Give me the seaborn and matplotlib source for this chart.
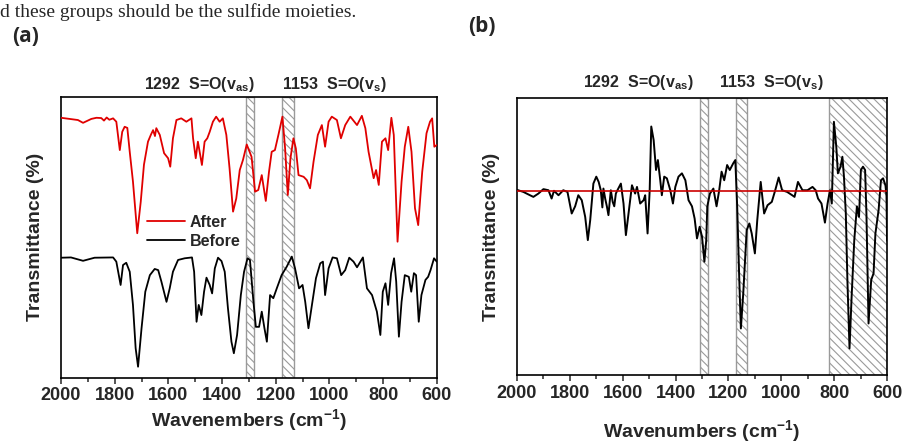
import numpy as np
import pandas as pd
import matplotlib
matplotlib.use("Agg")
import matplotlib.pyplot as plt
from matplotlib.ticker import MultipleLocator
import seaborn as sns

# ---- data ----
# panel (a): FTIR spectra, transmittance (arb. %)
wn_after = [2000, 1937, 1918, 1887, 1868, 1850, 1840, 1830, 1820, 1806, 1794, 1781, 1772, 1763,
            1753, 1744, 1732, 1716, 1703, 1691, 1676, 1665, 1657, 1650, 1645, 1632, 1616, 1601,
            1593, 1583, 1570, 1552, 1533, 1514, 1508, 1498, 1490, 1475, 1465, 1455, 1446, 1434,
            1422, 1409, 1397, 1384, 1372, 1359, 1347, 1334, 1322, 1308, 1290, 1277, 1265, 1252,
            1237, 1225, 1215, 1203, 1190, 1175, 1165, 1155, 1145, 1134, 1125, 1115, 1096, 1084,
            1072, 1059, 1043, 1028, 1016, 1003, 991, 972, 957, 941, 922, 897, 879, 866, 854,
            835, 826, 816, 804, 791, 781, 769, 760, 746, 731, 719, 706, 694, 681, 669, 654,
            638, 625, 617, 609, 600]
t_after = [92.5, 91.7, 90.7, 92.1, 92.5, 92.4, 91.5, 92.6, 91.8, 92.3, 91.1, 81.0, 87.5, 89.3,
           88.9, 80.4, 69.8, 51.4, 62.6, 75.8, 84.0, 86.5, 88.1, 86.0, 88.8, 86.4, 79.9, 78.1,
           75.1, 85.2, 91.7, 92.3, 91.1, 92.3, 85.2, 78.1, 84.0, 75.7, 84.0, 85.2, 87.5, 91.1,
           92.9, 91.1, 92.3, 86.4, 74.5, 59.1, 63.8, 73.9, 77.5, 83.0, 78.6, 66.2, 66.8, 72.1,
           62.9, 73.3, 80.4, 81.0, 86.4, 92.9, 81.6, 65.0, 78.1, 85.2, 81.6, 72.1, 71.5, 70.3,
           67.4, 76.9, 86.4, 89.9, 82.2, 91.1, 92.9, 91.7, 85.2, 89.9, 92.9, 89.9, 93.2, 88.8, 80.4,
           71.0, 73.9, 68.6, 84.0, 85.2, 81.0, 92.5, 86.4, 48.4, 69.8, 82.2, 89.3, 80.4, 60.3, 54.3, 73.3,
           87.0, 91.1, 92.3, 82.2, 82.8]

wn_before = [2000, 1963, 1918, 1875, 1806, 1794, 1778, 1769, 1757, 1744, 1732, 1722, 1713, 1700,
             1686, 1669, 1651, 1638, 1626, 1607, 1595, 1583, 1564, 1539, 1512, 1504, 1495, 1487,
             1477, 1467, 1458, 1446, 1437, 1427, 1415, 1402, 1390, 1378, 1365, 1356, 1344, 1330,
             1318, 1305, 1296, 1283, 1274, 1262, 1252, 1242, 1233, 1221, 1209, 1196, 1178, 1159,
             1140, 1128, 1113, 1100, 1090, 1078, 1065, 1050, 1034, 1024, 1016, 1003, 988, 972,
             956, 941, 926, 910, 897, 875, 860, 841, 823, 810, 801, 791, 781, 770, 759, 751,
             741, 731, 719, 704, 695, 685, 677, 667, 657, 642, 632, 623, 610, 600]
t_before = [42.7, 42.8, 41.6, 42.7, 42.8, 41.3, 33.0, 40.1, 40.9, 37.7, 25.9, 10.5, 3.9, 17.6,
            30.6, 36.5, 38.7, 38.3, 34.2, 27.0, 31.8, 37.7, 41.9, 42.5, 42.8, 37.7, 19.9, 25.9,
            22.3, 30.6, 35.6, 33.0, 30.0, 38.9, 42.7, 41.5, 37.7, 24.7, 12.8, 8.7, 15.2, 29.4,
            37.7, 42.5, 41.9, 27.0, 18.1, 18.1, 23.5, 17.6, 12.8, 29.4, 28.3, 31.8, 36.5, 39.5,
            43.1, 38.9, 31.8, 33.0, 27.0, 17.6, 25.9, 35.4, 40.7, 41.3, 29.4, 38.9, 42.8, 42.5,
            36.5, 38.3, 42.7, 41.3, 39.3, 42.8, 31.8, 29.4, 23.5, 15.2, 30.6, 33.6, 25.9, 37.2, 42.5, 34.2,
            14.6, 27.0, 36.5, 35.9, 30.6, 37.2, 36.5, 19.9, 29.4, 34.8, 35.9, 38.3, 42.5, 41.3]

# panel (b): difference spectrum (after - before), baseline at 0
wn_diff = [1999, 1976, 1951, 1938, 1919, 1900, 1881, 1869, 1860, 1843, 1825, 1809, 1793, 1780,
           1768, 1755, 1742, 1732, 1723, 1711, 1700, 1691, 1683, 1677, 1673, 1666, 1660, 1654,
           1645, 1638, 1632, 1626, 1620, 1607, 1597, 1588, 1578, 1565, 1553, 1546, 1534, 1521,
           1515, 1506, 1498, 1492, 1483, 1474, 1467, 1458, 1452, 1443, 1433, 1420, 1410, 1401,
           1389, 1376, 1363, 1351, 1338, 1328, 1319, 1309, 1300, 1291, 1284, 1280, 1270, 1257,
           1245, 1235, 1226, 1216, 1205, 1195, 1182, 1174, 1167, 1159, 1153, 1144, 1131, 1121,
           1112, 1100, 1091, 1078, 1065, 1052, 1036, 1023, 1010, 997, 978, 959, 950, 937, 920,
           901, 882, 870, 861, 848, 835, 825, 816, 809, 801, 792, 786, 776, 769, 763, 756, 750,
           742, 734, 724, 714, 706, 699, 691, 683, 678, 670, 660, 651, 644, 632, 623, 615, 606,
           602, 600]
t_diff = [0.3, -0.4, -1.6, -2.2, -1.0, 0.6, 0.2, -2.8, 0.0, -1.6, 0.2, -0.4, -8.2, -5.6,
          -1.6, -3.4, -9.4, -17.8, -10.6, 2.6, 5.1, 3.2, 0.2, -6.0, 0.8, -3.0, -5.6, -8.8,
          0.2, -4.0, -5.6, -1.0, 0.2, 2.6, -4.6, -16.0, -8.2, 2.0, -1.0, 1.4, -4.6, -3.4,
          -1.6, -15.4, 0.2, 23.2, 18.3, 7.5, 11.1, 3.8, -1.6, 5.1, 4.5, 0.2, -4.6, 1.4,
          5.1, 6.3, 3.8, -3.4, -5.6, -10.0, -17.2, -13.0, -16.6, -25.6, -17.8, -5.6, -1.0, 0.8,
          -5.6, 0.2, 6.9, 3.8, 9.3, 7.5, 9.9, 11.1, -5.6, -32.2, -49.7, -37.0, -14.2, -11.8,
          -15.4, -22.6, -10.6, 3.2, -8.2, -5.2, -4.0, 0.2, 4.8, 0.2, -0.4, -1.6, -2.2, 3.2, 0.2,
          0.2, 1.4, 0.2, -2.8, -4.6, -11.5, -4.6, 0.2, -4.6, 24.9, 15.9, 6.3, 8.7, 12.3, 5.1, -8.2, -32.2,
          -56.9, -38.2, -17.8, -5.6, -9.4, 7.5, 8.7, 7.5, -8.2, -47.9, -32.2, -29.8, -15.4, -7.0, 3.8, 4.5, 2.0,
          -2.0, -18.0]

# hatched regions (cm-1)
bands_a = [(1310, 1282), (1175, 1131)]
bands_b = [(1307, 1277), (1170, 1129), (818, 600)]

xticks = [2000, 1800, 1600, 1400, 1200, 1000, 800, 600]

# ---- style ----
sns.set_theme(style="ticks")
plt.rcParams["font.family"] = ["Liberation Sans", "DejaVu Sans"]
plt.rcParams["font.weight"] = "bold"
plt.rcParams["mathtext.fontset"] = "custom"
plt.rcParams["mathtext.rm"] = "Liberation Sans:bold"
plt.rcParams["mathtext.bf"] = "Liberation Sans:bold"
plt.rcParams["mathtext.it"] = "Liberation Sans:bold"
plt.rcParams["hatch.linewidth"] = 0.8
plt.rcParams["hatch.color"] = "#555555"

fig = plt.figure(figsize=(9.07, 4.43), dpi=100)
ax_a = fig.add_axes([0.0673, 0.1474, 0.4142, 0.6343])
ax_b = fig.add_axes([0.570, 0.1535, 0.408, 0.6253])


def style_axis(ax):
    ax.set_xlim(2000, 600)
    ax.set_xticks(xticks)
    ax.xaxis.set_minor_locator(MultipleLocator(100))
    ax.set_yticks([])
    ax.tick_params(axis="x", which="major", direction="out", length=4, width=1.1,
                   labelsize=13, pad=3)
    ax.tick_params(axis="x", which="minor", direction="out", length=3, width=1.1)
    for lab in ax.get_xticklabels():
        lab.set_fontweight("bold")
    for sp in ax.spines.values():
        sp.set_visible(True)
        sp.set_linewidth(1.2)
        sp.set_color("black")


def add_bands(ax, bands):
    for hi, lo in bands:
        ax.axvspan(lo, hi, facecolor="white", edgecolor="#9a9a9a", hatch="\\\\\\\\",
                   linewidth=1.0, zorder=1)


# ---- panel (a) ----
df_a = pd.concat([
    pd.DataFrame({"wn": wn_after, "T": t_after, "sample": "After"}),
    pd.DataFrame({"wn": wn_before, "T": t_before, "sample": "Before"}),
])
add_bands(ax_a, bands_a)
sns.lineplot(data=df_a, x="wn", y="T", hue="sample", palette={"After": "#e00000", "Before": "black"},
             linewidth=1.3, ax=ax_a, zorder=3, estimator=None)
ax_a.set_ylim(0, 100)
style_axis(ax_a)
ax_a.set_xlabel("Wavenembers (cm$^{-1}$)", fontsize=14, fontweight="bold", labelpad=2)
ax_a.set_ylabel("Transmittance (%)", fontsize=14, fontweight="bold", labelpad=12)
leg = ax_a.legend(loc="upper left", bbox_to_anchor=(0.19, 0.63), frameon=False,
                  handlelength=2.4, handletextpad=0.3, labelspacing=0.25,
                  prop={"weight": "bold", "size": 11.5})

ax_a.text(1690, 1.045, "1292  S=O(v$_{as}$)", transform=ax_a.get_xaxis_transform(),
          ha="left", va="center", fontsize=11.5, fontweight="bold")
ax_a.text(1178, 1.045, "1153  S=O(v$_{s}$)", transform=ax_a.get_xaxis_transform(),
          ha="left", va="center", fontsize=11.5, fontweight="bold")

# ---- panel (b) ----
df_b = pd.DataFrame({"wn": wn_diff, "T": t_diff})
add_bands(ax_b, bands_b)
ax_b.axhline(0, color="#cc0000", linewidth=1.2, zorder=4)
sns.lineplot(data=df_b, x="wn", y="T", color="black", linewidth=1.4, ax=ax_b, zorder=3,
             estimator=None)
ax_b.set_ylim(-66.5, 33.5)
style_axis(ax_b)
ax_b.set_xlabel("Wavenumbers (cm$^{-1}$)", fontsize=14, fontweight="bold", labelpad=12)
ax_b.set_ylabel("Transmittance (%)", fontsize=14, fontweight="bold", labelpad=12)

ax_b.text(1750, 1.055, "1292  S=O(v$_{as}$)", transform=ax_b.get_xaxis_transform(),
          ha="left", va="center", fontsize=11.5, fontweight="bold")
ax_b.text(1236, 1.055, "1153  S=O(v$_{s}$)", transform=ax_b.get_xaxis_transform(),
          ha="left", va="center", fontsize=11.5, fontweight="bold")

# panel letters and the caption line above
fig.text(0.013, 0.918, "(a)", fontsize=15, fontweight="bold", family=["Open Sans", "DejaVu Sans"],
         va="center")
fig.text(0.516, 0.94, "(b)", fontsize=15, fontweight="bold", family=["Open Sans", "DejaVu Sans"],
         va="center")
fig.text(0.0, 0.962, "d these groups should be the sulfide moieties.", fontsize=14,
         family=["Liberation Serif", "DejaVu Serif"], fontweight="normal", va="baseline")

fig.savefig("out.png", dpi=100)
